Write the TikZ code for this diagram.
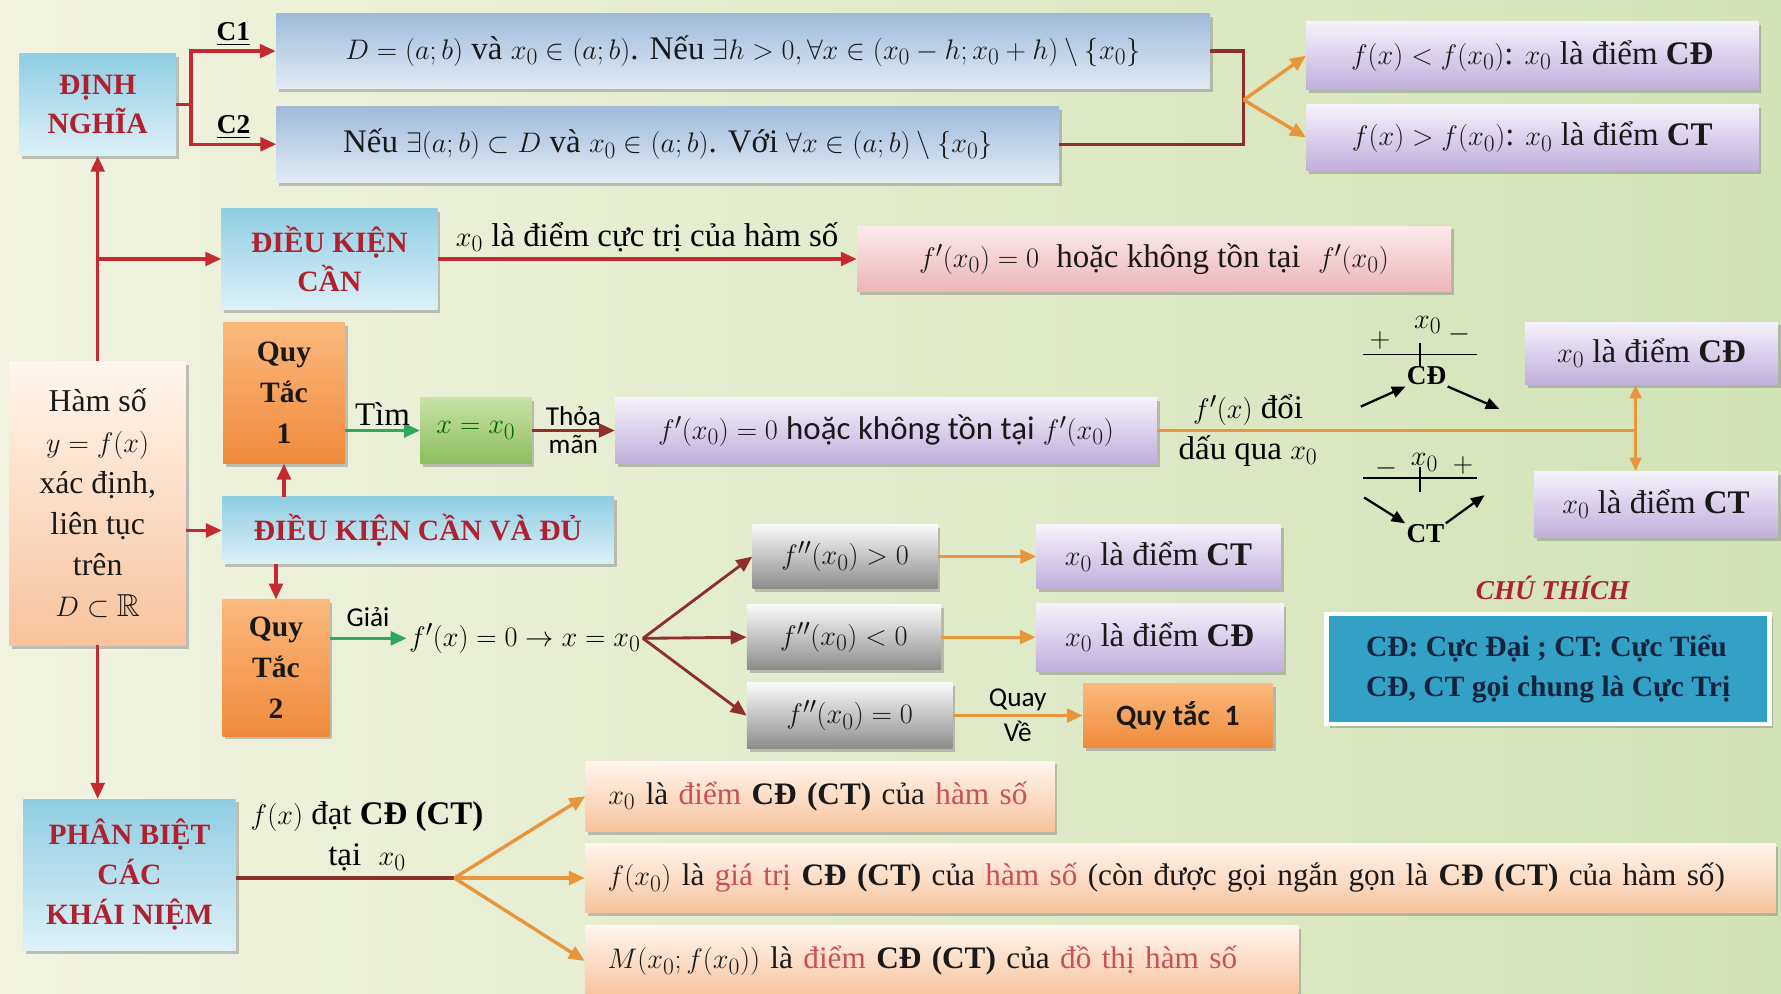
\documentclass[tikz,border=0pt]{standalone}
\usepackage{fontspec}
\usepackage{amsmath,amssymb}
\setmainfont{Liberation Serif}
\newfontfamily\calfont{Carlito}
\usetikzlibrary{arrows.meta,shadows}
\definecolor{bgA}{HTML}{F1F3E0}
\definecolor{bgB}{HTML}{D2E3B6}
\definecolor{vred}{HTML}{C42A30}
\definecolor{vbrown}{HTML}{8E2F2A}
\definecolor{vorange}{HTML}{E8953C}
\definecolor{vgreen}{HTML}{2FA85C}
\definecolor{vtitle}{HTML}{B0202E}
\definecolor{vpink}{HTML}{C8505A}
\definecolor{vnavy}{HTML}{16233F}
\definecolor{blueA}{HTML}{8FCDE3}
\definecolor{blueB}{HTML}{DDF1F7}
\definecolor{steelA}{HTML}{9FBADA}
\definecolor{steelB}{HTML}{E3EBF4}
\definecolor{lilacA}{HTML}{F6F2FB}
\definecolor{lilacB}{HTML}{C0AEDB}
\definecolor{pinkA}{HTML}{FBEBEB}
\definecolor{pinkB}{HTML}{EDB5B8}
\definecolor{peachA}{HTML}{FFF6EE}
\definecolor{peachB}{HTML}{F8C39C}
\definecolor{orA}{HTML}{FBB97E}
\definecolor{orB}{HTML}{F08A3A}
\definecolor{greenA}{HTML}{C8E2A6}
\definecolor{greenB}{HTML}{8DBD5E}
\definecolor{greyA}{HTML}{FAFAFA}
\definecolor{greyB}{HTML}{8C8C8C}
\definecolor{legendbg}{HTML}{33A0C6}
\newcommand{\hl}[1]{\textcolor{vpink}{#1}}

\tikzset{
  box/.style={inner sep=4pt, align=center, text=black!90,
    font=\fontsize{29}{36}\selectfont,
    drop shadow={opacity=0.45, shadow xshift=2.5pt, shadow yshift=-3pt}},
  bluebox/.style={box, top color=blueA, bottom color=blueB, text=vtitle,
    font=\bfseries\fontsize{26}{35}\selectfont},
  steelbox/.style={box, top color=steelA, bottom color=steelB},
  lilacbox/.style={box, top color=lilacA, bottom color=lilacB},
  pinkbox/.style={box, top color=pinkA, bottom color=pinkB},
  peachbox/.style={box, top color=peachA, bottom color=peachB},
  orangebox/.style={box, top color=orA, bottom color=orB,
    font=\bfseries\fontsize{26}{36}\selectfont},
  greenbox/.style={box, top color=greenA, bottom color=greenB},
  greybox/.style={box, top color=greyA, bottom color=greyB},
  lbl/.style={font=\fontsize{29}{36}\selectfont, inner sep=3pt, align=center},
  redarrow/.style={draw=vred, line width=3pt, -{Triangle[length=14pt,width=12pt]}},
  redline/.style={draw=vred, line width=3pt},
  brownline/.style={draw=vbrown, line width=3pt},
  brownarrow/.style={draw=vbrown, line width=2.5pt, -{Triangle[length=14pt,width=12pt]}},
  orangearrow/.style={draw=vorange, line width=3pt, -{Triangle[length=14pt,width=12pt]}},
  orangeline/.style={draw=vorange, line width=3pt},
  greenarrow/.style={draw=vgreen, line width=3pt, -{Triangle[length=14pt,width=12pt]}},
  signarrow/.style={draw=black, line width=2pt, -{Triangle[length=12pt,width=10pt]}}
}

\begin{document}
\begin{tikzpicture}[x=1pt, y=-1pt]
  % background
  \fill[left color=bgA, right color=bgB] (0,0) rectangle (1568,875);
  \useasboundingbox (0,0) rectangle (1568,875);

  % definition
  \node[bluebox, minimum width=138pt, minimum height=90pt] (dinhnghia) at (86,92) {ĐỊNH\\NGHĨA};
  \node[steelbox, minimum width=822pt, minimum height=66pt] (c1) at (654,45)
    {$D=(a;b)$ và $x_0\in(a;b)$. Nếu $\exists h>0,\forall x\in(x_0-h;x_0+h)\setminus\{x_0\}$};
  \node[steelbox, minimum width=689pt, minimum height=67pt] (c2) at (588,127)
    {Nếu $\exists(a;b)\subset D$ và $x_0\in(a;b)$. Với $\forall x\in(a;b)\setminus\{x_0\}$};
  \node[lilacbox, minimum width=398pt, minimum height=60pt] (cda) at (1349,49)
    {$f(x)<f(x_0)$: $x_0$ là điểm \textbf{CĐ}};
  \node[lilacbox, minimum width=398pt, minimum height=58pt] (cta) at (1349,121)
    {$f(x)>f(x_0)$: $x_0$ là điểm \textbf{CT}};

  % necessary condition
  \node[bluebox, minimum width=190pt, minimum height=89pt] (dkcan) at (290,228) {ĐIỀU KIỆN\\CẦN};
  \node[pinkbox, minimum width=523pt, minimum height=58pt] (fcan) at (1016,228)
    {$f'(x_0)=0$\; hoặc không tồn tại\; $f'(x_0)$};

  % function
  \node[peachbox, minimum width=155pt, minimum height=250pt,
    font=\fontsize{28}{36}\selectfont] (hamso) at (86,443)
    {Hàm số\\$y=f(x)$\\xác định,\\liên tục\\trên\\$D\subset\mathbb{R}$};

  % rule 1
  \node[orangebox, minimum width=107pt, minimum height=124pt] (quytac1) at (250,346) {Quy\\Tắc\\1};
  \node[greenbox, minimum width=98pt, minimum height=58pt, text=green!40!black] (nghiem) at (419,379) {$x=x_0$};
  \node[lilacbox, minimum width=477pt, minimum height=58pt] (fdk) at (780,379)
    {$f'(x_0)=0$ {\calfont hoặc không tồn tại} $f'(x_0)$};
  \node[lilacbox, minimum width=223pt, minimum height=55pt] (cdb) at (1454,311) {$x_0$ là điểm \textbf{CĐ}};
  \node[lilacbox, minimum width=215pt, minimum height=58pt] (ctb) at (1458,444) {$x_0$ là điểm \textbf{CT}};

  % sign tables
  \node[lbl] at (1215,300) {$+$};
  \node[lbl] at (1257,286) {$x_0$};
  \node[lbl] at (1285,294) {$-$};
  \draw[line width=1.5pt] (1200,312) -- (1300,312) (1250,302) -- (1250,322);
  \node[lbl, font=\bfseries\fontsize{24}{30}\selectfont, inner sep=1pt] (cdsign) at (1256,331) {CĐ};
  \node[lbl] at (1221,412) {$-$};
  \node[lbl] at (1254,407) {$x_0$};
  \node[lbl] at (1288,410) {$+$};
  \draw[line width=1.5pt] (1200,421) -- (1300,421) (1250,411) -- (1250,433);
  \node[lbl, font=\bfseries\fontsize{24}{30}\selectfont, inner sep=1pt] (ctsign) at (1255,470) {CT};
  \coordinate (s1) at (1198,358);
  \coordinate (s2) at (1320,360);
  \coordinate (s3) at (1201,438);
  \coordinate (s4) at (1307,436);

  % necessary and sufficient
  \node[bluebox, minimum width=345pt, minimum height=59pt] (dkcandu) at (368,467) {ĐIỀU KIỆN CẦN VÀ ĐỦ};

  % rule 2
  \node[orangebox, minimum width=94pt, minimum height=120pt] (quytac2) at (243,588) {Quy\\Tắc\\2};
  \node[lbl, inner sep=2pt] (pt) at (462,562) {$f'(x)=0\rightarrow x=x_0$};
  \node[greybox, minimum width=163pt, minimum height=56pt] (fpp1) at (744,490) {$f''(x_0)>0$};
  \node[greybox, minimum width=171pt, minimum height=57pt] (fpp2) at (743,561) {$f''(x_0)<0$};
  \node[greybox, minimum width=181pt, minimum height=58pt] (fpp3) at (748,630) {$f''(x_0)=0$};
  \node[lilacbox, minimum width=215pt, minimum height=56pt] (ctc) at (1020,490) {$x_0$ là điểm \textbf{CT}};
  \node[lilacbox, minimum width=218pt, minimum height=60pt] (cdc) at (1021,561) {$x_0$ là điểm \textbf{CĐ}};
  \node[orangebox, minimum width=167pt, minimum height=56pt,
    font=\calfont\bfseries\fontsize{26}{34}\selectfont] (quaylai) at (1037,630) {Quy tắc\enspace 1};

  % legend
  \node[lbl, text=vtitle, font=\bfseries\itshape\fontsize{24}{30}\selectfont] (chuthich) at (1367,518) {CHÚ THÍCH};
  \node[draw=white, line width=4pt, fill=legendbg, text=vnavy, align=left,
    minimum width=390pt, minimum height=97pt, inner xsep=18pt,
    font=\bfseries\fontsize{26}{35}\selectfont,
    drop shadow={opacity=0.45, shadow xshift=2.5pt, shadow yshift=-3pt}] (ghichu) at (1363,589)
    {CĐ: Cực Đại ; CT: Cực Tiểu\\CĐ, CT gọi chung là Cực Trị};

  % distinguishing notions
  \node[bluebox, minimum width=187pt, minimum height=133pt] (phanbiet) at (114,770) {PHÂN BIỆT\\CÁC\\KHÁI NIỆM};
  \node[peachbox, align=left, inner xsep=20pt, text width=373pt, minimum height=62pt,
    font=\fontsize{27.5}{34}\selectfont] (kn1) at (722,701)
    {$x_0$ là \hl{điểm} \textbf{CĐ (CT)} của \hl{hàm số}};
  \node[peachbox, align=left, inner xsep=20pt, text width=1008pt, minimum height=61pt,
    font=\fontsize{27.5}{34}\selectfont] (kn2) at (1039,773)
    {$f(x_0)$ là \hl{giá trị} \textbf{CĐ (CT)} của \hl{hàm số} (còn được gọi ngắn gọn là \textbf{CĐ (CT)} của hàm số)};
  \node[peachbox, align=left, inner xsep=20pt, text width=588pt, minimum height=62pt,
    font=\fontsize{27.5}{34}\selectfont] (kn3) at (829,846)
    {$M(x_0;f(x_0))$ là \hl{điểm} \textbf{CĐ (CT)} của \hl{đồ thị hàm số}};

  % connectors: definition
  \coordinate (tach1) at (168,92);
  \draw[redline] (dinhnghia.east) -- (tach1);
  \draw[redarrow] (tach1) |- (c1.west) node[lbl, pos=0.75, above, font=\bfseries\fontsize{24}{30}\selectfont] {\underline{C1}};
  \draw[redarrow] (tach1) |- (c2.west) node[lbl, pos=0.75, above, font=\bfseries\fontsize{24}{30}\selectfont] {\underline{C2}};
  \coordinate (noi1) at (1095,88);
  \draw[brownline] (c1.east) -| (noi1);
  \draw[brownline] (c2.east) -| (noi1);
  \draw[orangearrow] (noi1) -- (cda.west);
  \draw[orangearrow] (noi1) -- (cta.west);

  % connectors: from the function
  \draw[redarrow] (hamso.north) -- (dinhnghia.south);
  \draw[redarrow] (hamso.north |- dkcan.west) -- (dkcan.west);
  \draw[redarrow] (dkcan.east) -- (fcan.west)
    node[lbl, midway, above=2pt] {$x_0$ là điểm cực trị của hàm số};
  \draw[redarrow] (hamso.east |- dkcandu.west) -- (dkcandu.west);
  \draw[redarrow] (quytac1.south |- dkcandu.north) -- (quytac1.south);
  \draw[redarrow] (quytac2.north |- dkcandu.south) -- (quytac2.north);
  \draw[redarrow] (hamso.south) -- (hamso.south |- phanbiet.north);

  % connectors: rule 1
  \draw[greenarrow] (quytac1.east |- nghiem.west) -- (nghiem.west) node[lbl, midway, above] {Tìm};
  \draw[brownarrow] (nghiem.east) -- (fdk.west)
    node[lbl, midway, above, font=\calfont\fontsize{24}{30}\selectfont] {Thỏa}
    node[lbl, midway, below, font=\calfont\fontsize{24}{30}\selectfont] {mãn};
  \coordinate (doidau) at (1440,379);
  \draw[orangeline] (fdk.east) -- (doidau)
    node[lbl, pos=0.19, above] {$f'(x)$ đổi}
    node[lbl, pos=0.19, below] {dấu qua $x_0$};
  \draw[draw=vorange, line width=3pt, {Triangle[length=12pt,width=10pt]}-{Triangle[length=12pt,width=10pt]}]
    (cdb.south -| doidau) -- (ctb.north -| doidau);
  \draw[signarrow] (s1) -- (cdsign.south west);
  \draw[signarrow] (cdsign.south east) -- (s2);
  \draw[signarrow] (s3) -- (ctsign.north west);
  \draw[signarrow] (ctsign.north east) -- (s4);

  % connectors: rule 2
  \draw[greenarrow] (quytac2.east |- pt.west) -- (pt.west)
    node[lbl, midway, above=6pt, font=\calfont\fontsize{24}{30}\selectfont] {Giải};
  \foreach \k in {fpp1,fpp2,fpp3}
    \draw[brownarrow] (pt.east) -- (\k.west);
  \draw[orangearrow] (fpp1.east) -- (ctc.west);
  \draw[orangearrow] (fpp2.east) -- (cdc.west);
  \draw[orangearrow] (fpp3.east) -- (quaylai.west)
    node[lbl, midway, above, font=\calfont\fontsize{24}{30}\selectfont] {Quay}
    node[lbl, midway, below, font=\calfont\fontsize{24}{30}\selectfont] {Về};

  % connectors: notions
  \coordinate (tach3) at (400,773);
  \draw[brownline] (phanbiet.east |- tach3) -- (tach3)
    node[lbl, pos=0.6, above=2pt] {$f(x)$ đạt \textbf{CĐ (CT)}\\tại\; $x_0$};
  \foreach \k in {kn1,kn2,kn3}
    \draw[orangearrow] (tach3) -- (\k.west);
\end{tikzpicture}
\end{document}
